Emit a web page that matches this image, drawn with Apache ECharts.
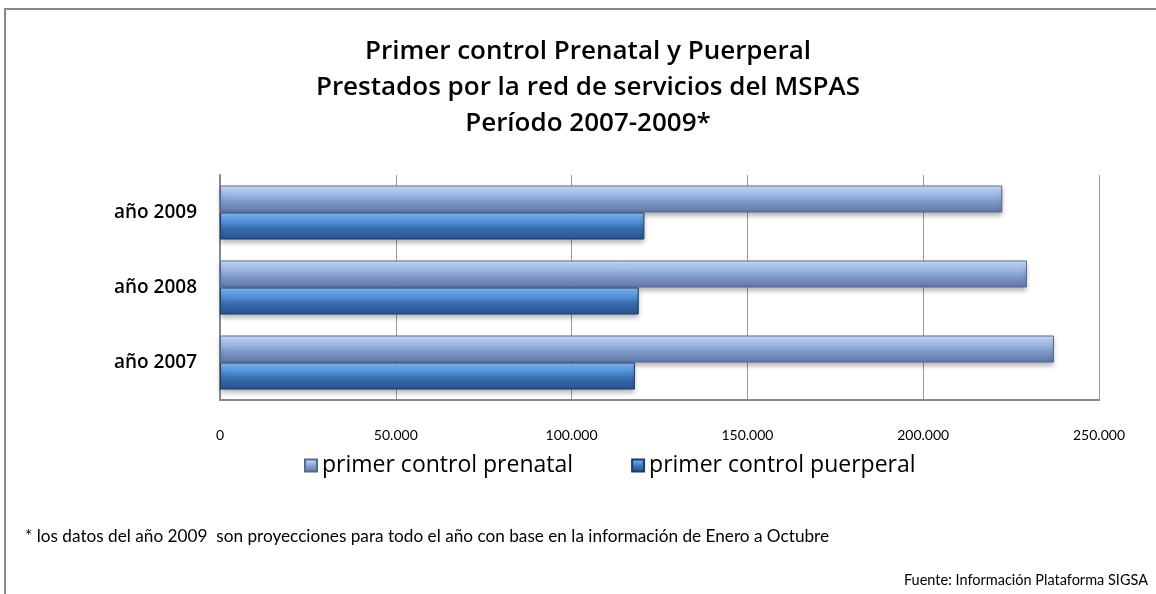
<!DOCTYPE html>
<html>
<head>
<meta charset="utf-8">
<script src="https://cdn.jsdelivr.net/npm/echarts@6/dist/echarts.min.js"></script>
<style>html,body{margin:0;padding:0;background:#fff}#c{width:1156px;height:594px}</style>
</head>
<body>
<div id="c"></div>
<script>
var categories = ['año 2007', 'año 2008', 'año 2009'];
var seriesNames = ['primer control prenatal', 'primer control puerperal'];
var prenatal = [237200, 229500, 222500];
var puerperal = [118000, 119100, 120700];
var titleLines = ['Primer control Prenatal y Puerperal', 'Prestados por la red de servicios del MSPAS', 'Período 2007-2009*'];
var footnote = '* los datos del año 2009  son proyecciones para todo el año con base en la información de Enero a Octubre';
var sourceText = 'Fuente: Información Plataforma SIGSA';

var chart = echarts.init(document.getElementById('c'), null, {renderer: 'canvas'});
var sans = 'Lato, "Open Sans", sans-serif';
function grad(c0, c1, c2, c3) {
  return new echarts.graphic.LinearGradient(0, 0, 0, 1, [
    {offset: 0, color: c0}, {offset: 0.25, color: c1}, {offset: 0.6, color: c2}, {offset: 1, color: c3}
  ]);
}
chart.setOption({
  animation: false,
  title: {
    text: titleLines.join('\n'),
    left: 583, textAlign: 'center', top: 29,
    textStyle: {fontFamily: '"Open Sans", sans-serif', fontWeight: 600, fontSize: 26, lineHeight: 36, color: '#000'}
  },
  legend: {
    data: seriesNames,
    top: 449, left: 299,
    itemWidth: 12, itemHeight: 12, itemGap: 58,
    icon: 'rect',
    textStyle: {fontFamily: '"Open Sans", sans-serif', fontSize: 23, color: '#000'}
  },
  grid: {left: 220, right: 57, top: 175, bottom: 194, containLabel: false},
  xAxis: {
    type: 'value', min: 0, max: 250000, interval: 50000,
    axisLine: {show: true, lineStyle: {color: '#888', width: 2}},
    axisTick: {show: false},
    splitLine: {show: true, lineStyle: {color: '#999', width: 1}},
    axisLabel: {
      margin: 28, color: '#000', fontFamily: sans, fontSize: 14,
      formatter: function (v) { return v === 0 ? '0' : v.toLocaleString('de-DE'); }
    }
  },
  yAxis: {
    type: 'category', data: categories,
    axisLine: {show: true, lineStyle: {color: '#888', width: 2}},
    axisTick: {show: false},
    axisLabel: {margin: 23, color: '#000', fontFamily: '"Open Sans", sans-serif', fontWeight: 600, fontSize: 19}
  },
  series: [
    {
      name: seriesNames[0], type: 'bar', data: prenatal,
      barGap: '0%', barCategoryGap: '28%',
      itemStyle: {color: grad('#cfe6fc', '#a9c5ee', '#7e98c8', '#5f78a8'), borderColor: '#56698e', borderWidth: 1,
        shadowColor: 'rgba(0,0,0,0.3)', shadowBlur: 5, shadowOffsetY: 3}
    },
    {
      name: seriesNames[1], type: 'bar', data: puerperal,
      barGap: '0%', barCategoryGap: '28%',
      itemStyle: {color: grad('#86c0f7', '#5d9ee6', '#386cad', '#285290'), borderColor: '#1d3b68', borderWidth: 1,
        shadowColor: 'rgba(0,0,0,0.3)', shadowBlur: 5, shadowOffsetY: 3}
    }
  ],
  graphic: [
    {type: 'rect', shape: {x: 5, y: 9, width: 1200, height: 700}, style: {fill: 'none', stroke: '#8a8a8a', lineWidth: 2}, silent: true},
    {type: 'text', left: 25, top: 528, style: {text: footnote, fontFamily: sans, fontSize: 17.2, fill: '#000'}},
    {type: 'text', right: 8, top: 573, style: {text: sourceText, fontFamily: sans, fontSize: 14.5, fill: '#000'}}
  ]
});
</script>
</body>
</html>
